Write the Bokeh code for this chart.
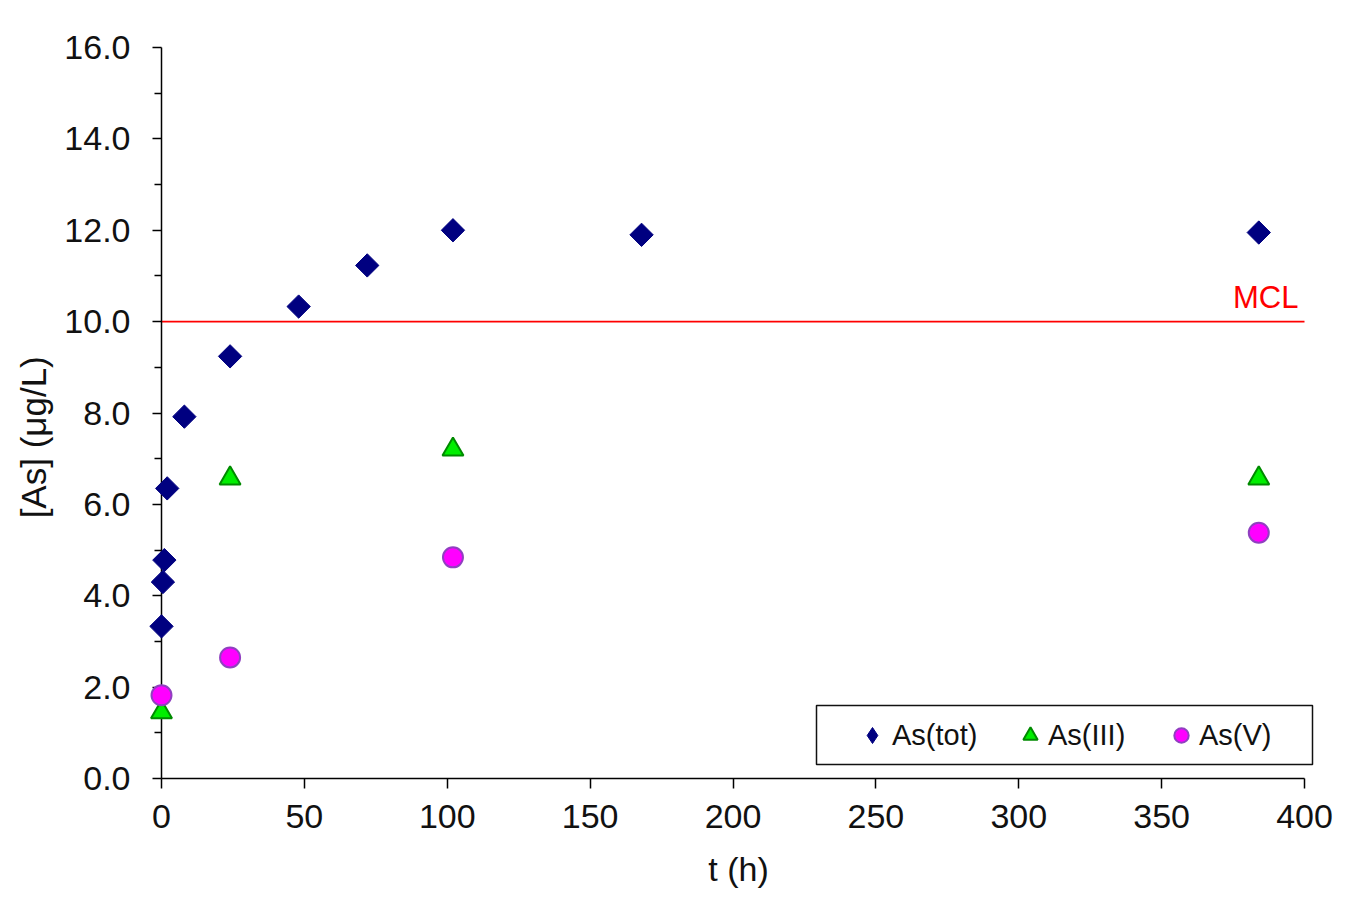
import math
from bokeh.plotting import figure
from bokeh.models import (Range1d, FixedTicker, NumeralTickFormatter, Label,
                          Legend, LegendItem, BoxAnnotation)
from bokeh.embed import file_html
from bokeh.resources import INLINE

# ---- data ----
t_tot = [0, 0.5, 1, 2, 8, 24, 48, 72, 102, 168, 384]
as_tot = [3.33, 4.30, 4.78, 6.35, 7.92, 9.24, 10.33, 11.23, 12.0, 11.9, 11.95]

t_iii = [0, 24, 102, 384]
as_iii = [1.45, 6.57, 7.2, 6.57]

t_v = [0, 24, 102, 384]
as_v = [1.82, 2.65, 4.84, 5.38]

mcl = 10.0
x_ticks = [0, 50, 100, 150, 200, 250, 300, 350, 400]
y_ticks = [0, 2, 4, 6, 8, 10, 12, 14, 16]
y_minor = [1, 3, 5, 7, 9, 11, 13, 15]

FONT = "Liberation Sans"

PX_PER_X = 1143 / 400.0
FRAME_W = 1154
x_end = FRAME_W / PX_PER_X  # frame extends a little past 400 so the legend box fits

p = figure(frame_width=FRAME_W, frame_height=731,
           min_border_left=161, min_border_right=31, min_border_top=47, min_border_bottom=124,
           x_range=Range1d(0, x_end), y_range=Range1d(0, 16),
           output_backend="svg", toolbar_location=None)
p.outline_line_color = None
p.grid.visible = False
p.background_fill_color = "white"
p.border_fill_color = "white"

# axes
for ax in (p.xaxis[0], p.yaxis[0]):
    ax.axis_line_color = "black"
    ax.axis_line_width = 1.5
    ax.major_tick_line_color = "black"
    ax.major_tick_line_width = 1.5
    ax.minor_tick_line_color = "black"
    ax.minor_tick_line_width = 1.5
    ax.major_tick_in = 0
    ax.minor_tick_in = 0
    ax.major_label_text_font = FONT
    ax.major_label_text_font_size = "34px"
    ax.major_label_text_color = "#111111"
    ax.axis_label_text_font = FONT
    ax.axis_label_text_font_size = "34px"
    ax.axis_label_text_font_style = "normal"
    ax.axis_label_text_color = "#111111"

p.xaxis.ticker = FixedTicker(ticks=x_ticks)
p.xaxis.bounds = (x_ticks[0], x_ticks[-1])
p.xaxis.major_tick_out = 10
p.xaxis.minor_tick_out = 0
p.xaxis.major_label_standoff = 16
p.xaxis.axis_label = "t (h)"
p.xaxis.axis_label_standoff = 19

p.yaxis.ticker = FixedTicker(ticks=y_ticks, minor_ticks=y_minor)
p.yaxis.formatter = NumeralTickFormatter(format="0.0")
p.yaxis.major_tick_out = 9
p.yaxis.minor_tick_out = 7
p.yaxis.major_label_standoff = 22
p.yaxis.axis_label = "[As] (μg/L)\u00a0\u00a0\u00a0\u00a0\u00a0"
p.yaxis.axis_label_text_font_size = "35px"
p.yaxis.axis_label_standoff = 8

# MCL line and label
p.line([x_ticks[0], x_ticks[-1]], [mcl, mcl], line_color="#ff0000", line_width=1.6)
p.add_layout(Label(x=1137, y=481, x_units="screen", y_units="screen", text="MCL",
                   text_align="right", text_baseline="alphabetic",
                   text_font=FONT, text_font_size="31px", text_color="#ff0000"))

# data
r_tot = p.scatter(t_tot, as_tot, marker="square", angle=math.pi / 4, size=16.5,
                  fill_color="#000080", line_color="#000080", line_width=1, level="overlay")
r_iii = p.scatter(t_iii, as_iii, marker="triangle", size=21,
                  fill_color="#00ee00", line_color="#008a00", line_width=2, level="overlay")
r_v = p.scatter(t_v, as_v, marker="circle", size=20,
                fill_color="#ff00ff", line_color="#9040c0", line_width=2, level="overlay")
# legend proxy for the diamond (legend glyphs are drawn unrotated); NaN point draws nothing in the plot
r_tot_leg = p.scatter([float("nan")], [float("nan")], marker="diamond",
                      fill_color="#000080", line_color="#000080", line_width=1)

# legend box
p.add_layout(BoxAnnotation(left=655, right=1151, bottom=14, top=73,
                           left_units="screen", right_units="screen",
                           bottom_units="screen", top_units="screen",
                           fill_alpha=0, line_color="#111111", line_alpha=1.0,
                           line_width=1.5, level="overlay"))

def add_leg(label, r, vx, vy, W):
    lg = Legend(items=[LegendItem(label=label, renderers=[r])], location=(vx, vy),
                orientation="horizontal", padding=0, margin=0, spacing=0,
                glyph_width=W, glyph_height=W, label_standoff=0,
                border_line_alpha=0, background_fill_alpha=0,
                label_text_font=FONT, label_text_font_size="29px", label_text_color="#111111")
    p.add_layout(lg)

add_leg("As(tot)", r_tot_leg, 691, 23, 40)
add_leg("As(III)", r_iii, 851, 25, 36)
add_leg("As(V)", r_v, 1002, 25, 36)

open("out.html", "w").write(file_html(p, INLINE))
